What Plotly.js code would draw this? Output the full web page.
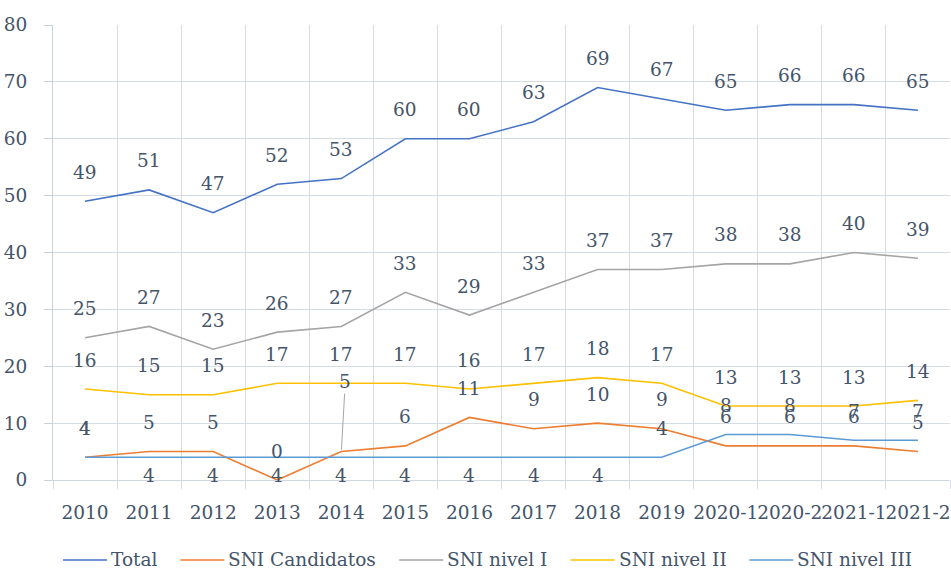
<!DOCTYPE html>
<html>
<head>
<meta charset="utf-8">
<script src="https://cdn.plot.ly/plotly-3.0.1.min.js"></script>
<style>html,body{margin:0;padding:0;background:#fff;}#chart{width:951px;height:571px;}</style>
</head>
<body>
<div id="chart"></div>
<script>
const categories = ['2010','2011','2012','2013','2014','2015','2016','2017','2018','2019','2020-1','2020-2','2021-1','2021-2'];
const total      = [49,51,47,52,53,60,60,63,69,67,65,66,66,65];
const candidatos = [4,5,5,0,5,6,11,9,10,9,6,6,6,5];
const nivelI     = [25,27,23,26,27,33,29,33,37,37,38,38,40,39];
const nivelII    = [16,15,15,17,17,17,16,17,18,17,13,13,13,14];
const nivelIII   = [4,4,4,4,4,4,4,4,4,4,8,8,7,7];
const yTicks     = [0,10,20,30,40,50,60,70,80];
const seriesNames = ['Total','SNI Candidatos','SNI nivel I','SNI nivel II','SNI nivel III'];

const colors = ['#4472C4','#ED7D31','#A5A5A5','#FFC000','#5B9BD5'];
const values = [total, candidatos, nivelI, nivelII, nivelIII];

// label placement (layout config): 'a' above, 'b' below, 'l' leader-line above
const placement = {
  'SNI nivel III': ['a','b','b','b','b','b','b','b','b','a','a','a','a','a'],
  'SNI Candidatos': ['a','a','a','a','l','a','a','a','a','a','a','a','a','a']
};

const textColor = '#44546A';
const fontFam = 'DejaVu Serif';
const fs = 18.5;

const W = 951, H = 571;
const M = {l:53, r:1, t:25, b:91};
const plotW = W - M.l - M.r, plotH = H - M.t - M.b;

const traces = seriesNames.map((n, k) => ({
  type:'scatter', mode:'lines', name: n, x:categories, y:values[k],
  line:{color:colors[k], width:1.6}, hoverinfo:'skip', showlegend:false
}));

const annotations = [];
seriesNames.forEach((n, k) => {
  const pl = placement[n];
  values[k].forEach((v,i) => {
    const p = pl ? pl[i] : 'a';
    if (p === 'l') {
      annotations.push({xref:'x', yref:'y', x:i, y:v, text:String(v), showarrow:true,
        arrowhead:0, arrowwidth:1, arrowcolor:'#A6A6A6', ax:4, ay:-70, standoff:2,
        font:{family:fontFam, size:fs, color:textColor}});
    } else {
      annotations.push({xref:'x', yref:'y', x:i, y:v, text:String(v), showarrow:false,
        yshift: p === 'b' ? -18 : 29,
        font:{family:fontFam, size:fs, color:textColor}});
    }
  });
});

// manual legend (Excel-like spacing)
const ctx = document.createElement('canvas').getContext('2d');
ctx.font = fs + 'px "' + fontFam + '"';
const legY = 559, sampleLen = 44, sampleGap = 3, itemGap = 24;
let legX = 63;
const shapes = [];
const px2xp = px => (px - M.l) / plotW;
const px2yp = py => (H - M.b - py) / plotH;
seriesNames.forEach((n, k) => {
  shapes.push({type:'line', xref:'paper', yref:'paper',
    x0: px2xp(legX), x1: px2xp(legX + sampleLen), y0: px2yp(legY + 1), y1: px2yp(legY + 1),
    line:{color:colors[k], width:1.6}});
  const tx = legX + sampleLen + sampleGap;
  annotations.push({xref:'paper', yref:'paper', x: px2xp(tx), y: px2yp(legY),
    xanchor:'left', yanchor:'middle', text:n, showarrow:false, borderpad:0,
    font:{family:fontFam, size:fs, color:textColor}});
  legX = tx + ctx.measureText(n).width + itemGap;
});

const layout = {
  width:W, height:H,
  margin:M,
  paper_bgcolor:'#ffffff', plot_bgcolor:'#ffffff',
  font:{family:fontFam, size:fs, color:textColor},
  showlegend:false,
  xaxis:{type:'category', tickson:'boundaries', ticks:'outside', ticklen:8, tickcolor:'#D6DCE4',
    showgrid:true, gridcolor:'#D6DCE4', gridwidth:1, showline:true, linecolor:'#D0D7E0',
    tickangle:0, ticklabelstandoff:16, fixedrange:true, range:[-0.5,13.5], automargin:false},
  yaxis:{range:[0,80], tickvals:yTicks, ticktext:yTicks.map(String), ticks:'outside', ticklen:8,
    tickcolor:'#C9D1DC', showgrid:true, gridcolor:'#D6DCE4', gridwidth:1, showline:true,
    linecolor:'#C9D1DC', zeroline:false, ticklabelstandoff:13, fixedrange:true, automargin:false},
  annotations: annotations,
  shapes: shapes
};

Plotly.newPlot('chart', traces, layout, {displayModeBar:false, staticPlot:true});
</script>
</body>
</html>
